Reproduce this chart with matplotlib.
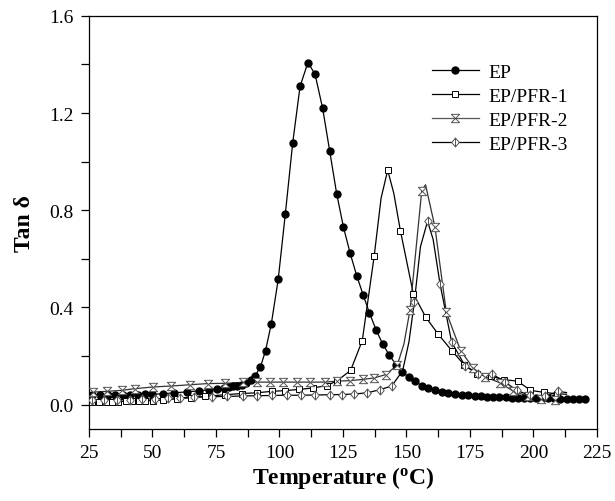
import numpy as np
import matplotlib
matplotlib.use("Agg")
import matplotlib.pyplot as plt
from matplotlib.path import Path
from matplotlib.lines import Line2D

plt.rcParams['font.family'] = ['Liberation Serif', 'DejaVu Serif']
plt.rcParams['mathtext.fontset'] = 'custom'
plt.rcParams['mathtext.rm'] = 'Liberation Serif'
plt.rcParams['mathtext.bf'] = 'Liberation Serif:bold'

# ---------------- data ----------------
labels = ["EP", "EP/PFR-1", "EP/PFR-2", "EP/PFR-3"]

ep_t = [26.0, 29.3, 32.6, 35.4, 38.3, 41.1, 44.2, 47.0, 49.8, 54.2, 58.6, 63.7, 68.3,
        72.2, 75.5, 78.1, 80.0, 81.8, 83.3, 85.3, 87.0, 88.6, 90.3, 92.5, 94.5, 96.8,
        99.5, 102.3, 105.2, 108.1, 111.2, 114.0, 117.0, 119.8, 122.5, 125.2, 127.8,
        130.4, 133.0, 135.4, 138.0, 140.6, 143.2, 145.9, 148.3, 150.9, 153.3, 156.0,
        158.6, 161.2, 163.9, 166.5, 169.1, 171.7, 174.3, 177.0, 179.4, 181.8, 184.2,
        186.6, 189.0, 191.4, 193.8, 196.2, 198.6, 201.0, 203.4, 205.8, 208.2, 210.6,
        213.0, 215.4, 217.8, 220.4]
ep_v = [0.042, 0.042, 0.042, 0.042, 0.042, 0.042, 0.042, 0.043, 0.043, 0.045, 0.049,
        0.053, 0.057, 0.062, 0.066, 0.069, 0.072, 0.075, 0.078, 0.082, 0.090, 0.100,
        0.118, 0.155, 0.222, 0.334, 0.516, 0.785, 1.077, 1.310, 1.408, 1.360, 1.219,
        1.042, 0.869, 0.730, 0.624, 0.531, 0.450, 0.378, 0.309, 0.250, 0.205, 0.164,
        0.134, 0.114, 0.096, 0.079, 0.069, 0.062, 0.053, 0.048, 0.044, 0.041, 0.038,
        0.036, 0.034, 0.033, 0.032, 0.031, 0.030, 0.029, 0.028, 0.028, 0.027, 0.027,
        0.026, 0.026, 0.026, 0.025, 0.025, 0.025, 0.025, 0.025]

pfr1_t = [26.0, 28.9, 31.5, 34.1, 36.5, 39.4, 42.0, 44.6, 47.2, 50.2, 54.1, 59.5, 65.0,
          70.5, 78.5, 85.1, 91.0, 96.9, 102.2, 107.8, 113.3, 118.6, 122.5, 128.0, 132.6,
          137.3, 142.6, 147.6, 152.7, 157.6, 162.5, 167.8, 172.8, 177.9, 183.1, 188.4,
          193.8, 198.8, 204.0, 209.1]
pfr1_v = [0.012, 0.012, 0.012, 0.013, 0.013, 0.014, 0.014, 0.015, 0.016, 0.017, 0.019,
          0.024, 0.029, 0.034, 0.041, 0.046, 0.049, 0.055, 0.058, 0.063, 0.069, 0.079,
          0.097, 0.141, 0.264, 0.613, 0.965, 0.716, 0.456, 0.360, 0.290, 0.223, 0.163,
          0.125, 0.118, 0.103, 0.097, 0.059, 0.051, 0.045]
pfr1_line_t = [140.0, 145.0, 213.0]
pfr1_line_v = [0.850, 0.870, 0.043]

pfr2_t = [26.7, 31.9, 37.8, 43.0, 50.2, 57.4, 64.6, 71.8, 78.5, 85.7, 91.0, 96.3, 101.5,
          106.8, 112.0, 117.9, 122.5, 127.7, 132.7, 137.2, 141.9, 146.4, 151.4, 156.0,
          161.2, 165.7, 171.3, 176.3, 180.9, 186.8, 192.0, 197.9, 203.0, 208.5]
pfr2_v = [0.052, 0.055, 0.059, 0.066, 0.073, 0.077, 0.082, 0.087, 0.088, 0.092, 0.093,
          0.093, 0.093, 0.093, 0.093, 0.093, 0.097, 0.099, 0.104, 0.110, 0.124, 0.164,
          0.391, 0.880, 0.732, 0.380, 0.223, 0.150, 0.115, 0.090, 0.056, 0.034, 0.025,
          0.018]
pfr2_line_t = [149.0, 157.5, 163.5, 213.0]
pfr2_line_v = [0.250, 0.905, 0.550, 0.030]

pfr3_t = [26.0, 31.0, 36.0, 41.0, 46.0, 51.0, 56.0, 61.0, 66.5, 73.4, 79.3, 85.7, 91.0,
          96.9, 102.8, 108.5, 114.0, 119.9, 124.5, 129.3, 134.6, 139.6, 144.2, 153.1,
          158.3, 163.2, 167.8, 173.0, 178.3, 183.5, 188.8, 193.4, 198.6, 204.5, 209.8]
pfr3_v = [0.018, 0.019, 0.020, 0.021, 0.023, 0.024, 0.026, 0.028, 0.031, 0.033, 0.034,
          0.036, 0.037, 0.038, 0.039, 0.039, 0.040, 0.041, 0.042, 0.044, 0.049, 0.062,
          0.077, 0.424, 0.755, 0.497, 0.257, 0.161, 0.127, 0.128, 0.093, 0.059, 0.038,
          0.034, 0.055]
pfr3_line_t = [148.5, 151.0, 155.5, 160.5, 213.0]
pfr3_line_v = [0.140, 0.260, 0.650, 0.680, 0.050]

x_ticks = [25, 50, 75, 100, 125, 150, 175, 200, 225]
y_ticks = [0.0, 0.4, 0.8, 1.2, 1.6]

# ---------------- markers ----------------
hourglass = Path([(-1, 1), (1, 1), (-1, -1), (1, -1), (-1, 1)],
                 [Path.MOVETO, Path.LINETO, Path.LINETO, Path.LINETO, Path.CLOSEPOLY])
diam_bar = Path([(0, 1.2), (1, 0), (0, -1.2), (-1, 0), (0, 1.2), (0, 1.2), (0, -1.2)],
                [Path.MOVETO, Path.LINETO, Path.LINETO, Path.LINETO, Path.CLOSEPOLY,
                 Path.MOVETO, Path.LINETO])

def merged(t, v, lt, lv):
    tt = np.concatenate([t, lt]); vv = np.concatenate([v, lv])
    o = np.argsort(tt)
    return tt[o], vv[o]

fig = plt.figure(figsize=(6.15, 5.02), dpi=100)
ax = fig.add_axes([0.1447, 0.1434, 0.826, 0.823])

lw = 0.9
gray = '#555555'
series = [
    (ep_t, ep_v, [], [], dict(marker='o', ms=5.0, mfc='black', mec='black'), 'black', 'black'),
    (pfr1_t, pfr1_v, pfr1_line_t, pfr1_line_v, dict(marker='s', ms=4.6, mfc='white', mec='black', mew=0.7), 'black', 'black'),
    (pfr2_t, pfr2_v, pfr2_line_t, pfr2_line_v, dict(marker=hourglass, ms=6.0, mfc='white', mec=gray, mew=0.7), '#333333', gray),
    (pfr3_t, pfr3_v, pfr3_line_t, pfr3_line_v, dict(marker=diam_bar, ms=6.5, mfc='white', mec=gray, mew=0.7), 'black', 'black'),
]
handles = []
for (t, v, lt, lv, mk, lc, legc), lab in zip(series, labels):
    tt, vv = merged(np.array(t), np.array(v), np.array(lt), np.array(lv))
    ax.plot(tt, vv, color=lc, lw=lw, zorder=2)
    ax.plot(t, v, ls='none', zorder=3, **mk)
    handles.append(Line2D([], [], color=legc, lw=lw, **mk))

ax.set_xlim(25, 225)
ax.set_ylim(-0.1, 1.6)
ax.set_xticks(x_ticks)
ax.set_xticklabels([str(v) for v in x_ticks])
ax.set_xticks(np.arange(37.5, 225, 25), minor=True)
ax.set_yticks(y_ticks)
ax.set_yticklabels([f"{v:.1f}" for v in y_ticks])
ax.set_yticks([0.2, 0.6, 1.0, 1.4], minor=True)
ax.tick_params(which='both', direction='out', length=6, width=0.9,
               top=False, right=False, labelsize=14, pad=5)
for s in ax.spines.values():
    s.set_linewidth(0.9)

ax.set_xlabel(r"Temperature ($\mathbf{^{o}}$C)", fontsize=17, fontweight='bold', labelpad=2)
ax.set_ylabel("Tan δ", fontsize=17, fontweight='bold', labelpad=10)

ax.legend(handles, labels, loc='upper left', bbox_to_anchor=(0.66, 0.905),
          frameon=False, fontsize=14, handlelength=2.4, handletextpad=0.5,
          labelspacing=0.33, borderaxespad=0)

fig.savefig("out.png", dpi=100)
